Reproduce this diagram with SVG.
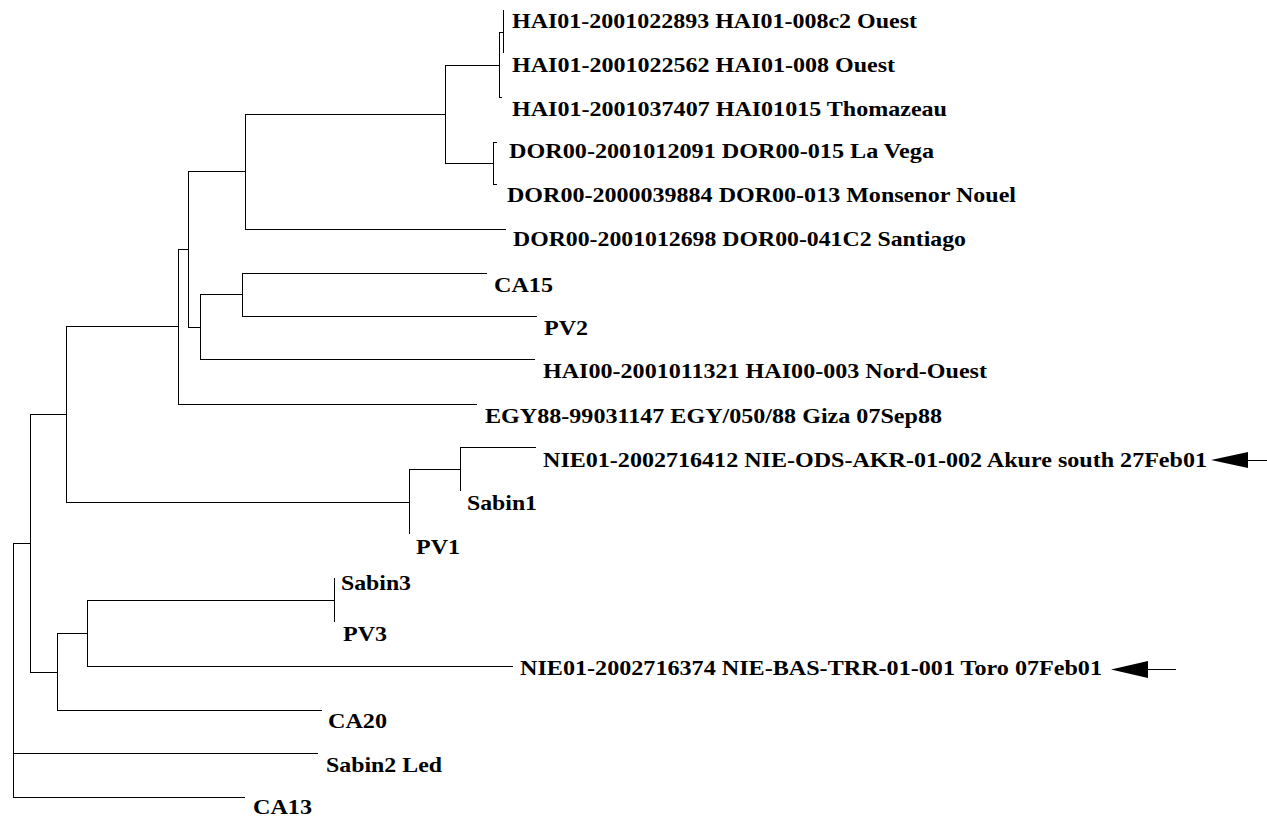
<svg xmlns="http://www.w3.org/2000/svg" width="1267" height="817" viewBox="0 0 1267 817">
<style>
text{font-family:"Liberation Serif","Times New Roman",serif;font-weight:bold;font-size:22px;fill:#000}
.e{stroke:#000;stroke-width:1;fill:none}
</style>
<rect width="1267" height="817" fill="#fff"/>
<g id="connectors" class="e">
<path d="M13.5 543V797.5M13 543.5H30M13 797.5H245M13 753.5H318"/>
<path d="M30.5 414V672.5M30 414.5H66M30 672.5H57"/>
<path d="M66.5 326V502.5M66 326.5H178M66 502.5H409"/>
<path d="M178.5 249V404.5M178 249.5H188M178 404.5H477"/>
<path d="M188.5 171V327.5M188 171.5H245M188 327.5H200"/>
<path d="M245.5 114V229.5M245 114.5H445M245 229.5H506"/>
<path d="M445.5 65V163.5M445 65.5H499M445 163.5H493"/>
<path d="M499.5 32V97.5M499 32.5H503M499 97.5H502"/>
<path d="M503.5 10V53"/>
<path d="M493.5 142V184.5M493 142.5H497M493 184.5H497"/>
<path d="M200.5 294V359.5M200 294.5H242M200 359.5H535"/>
<path d="M242.5 273V316.5M242 273.5H487M242 316.5H537"/>
<path d="M409.5 469V534M409 469.5H460"/>
<path d="M460.5 447V491M460 447.5H536"/>
<path d="M57.5 633V710.5M57 633.5H87M57 710.5H322"/>
<path d="M87.5 600V666.5M87 600.5H334M87 666.5H513"/>
<path d="M334.5 578V622"/>
</g>
<g id="arrows">
<path class="e" d="M1247 460.5H1267"/>
<polygon points="1211,460 1248,452 1248,468"/>
<path class="e" d="M1147 669.5H1176"/>
<polygon points="1111,669.5 1148,661 1148,678"/>
</g>
<g id="n1"><text x="512" y="28" textLength="405" lengthAdjust="spacingAndGlyphs">HAI01-2001022893 HAI01-008c2 Ouest</text></g>
<g id="n2"><text x="512" y="72" textLength="383" lengthAdjust="spacingAndGlyphs">HAI01-2001022562 HAI01-008 Ouest</text></g>
<g id="n3"><text x="512" y="116" textLength="435" lengthAdjust="spacingAndGlyphs">HAI01-2001037407 HAI01015 Thomazeau</text></g>
<g id="n4"><text x="509" y="158" textLength="425" lengthAdjust="spacingAndGlyphs">DOR00-2001012091 DOR00-015 La Vega</text></g>
<g id="n5"><text x="507" y="202" textLength="509" lengthAdjust="spacingAndGlyphs">DOR00-2000039884 DOR00-013 Monsenor Nouel</text></g>
<g id="n6"><text x="513" y="246" textLength="453" lengthAdjust="spacingAndGlyphs">DOR00-2001012698 DOR00-041C2 Santiago</text></g>
<g id="n7"><text x="494" y="292" textLength="59" lengthAdjust="spacingAndGlyphs">CA15</text></g>
<g id="n8"><text x="544" y="335" textLength="44" lengthAdjust="spacingAndGlyphs">PV2</text></g>
<g id="n9"><text x="543" y="378" textLength="444" lengthAdjust="spacingAndGlyphs">HAI00-2001011321 HAI00-003 Nord-Ouest</text></g>
<g id="n10"><text x="485" y="423" textLength="457" lengthAdjust="spacingAndGlyphs">EGY88-99031147 EGY/050/88 Giza 07Sep88</text></g>
<g id="n11"><text x="543" y="467" textLength="664" lengthAdjust="spacingAndGlyphs">NIE01-2002716412 NIE-ODS-AKR-01-002 Akure south 27Feb01</text></g>
<g id="n12"><text x="467" y="510" textLength="70" lengthAdjust="spacingAndGlyphs">Sabin1</text></g>
<g id="n13"><text x="416" y="554" textLength="44" lengthAdjust="spacingAndGlyphs">PV1</text></g>
<g id="n14"><text x="341" y="590" textLength="70" lengthAdjust="spacingAndGlyphs">Sabin3</text></g>
<g id="n15"><text x="343" y="641" textLength="44" lengthAdjust="spacingAndGlyphs">PV3</text></g>
<g id="n16"><text x="520" y="675" textLength="582" lengthAdjust="spacingAndGlyphs">NIE01-2002716374 NIE-BAS-TRR-01-001 Toro 07Feb01</text></g>
<g id="n17"><text x="328" y="728" textLength="59" lengthAdjust="spacingAndGlyphs">CA20</text></g>
<g id="n18"><text x="326" y="772" textLength="116" lengthAdjust="spacingAndGlyphs">Sabin2 Led</text></g>
<g id="n19"><text x="253" y="814" textLength="59" lengthAdjust="spacingAndGlyphs">CA13</text></g>
</svg>
